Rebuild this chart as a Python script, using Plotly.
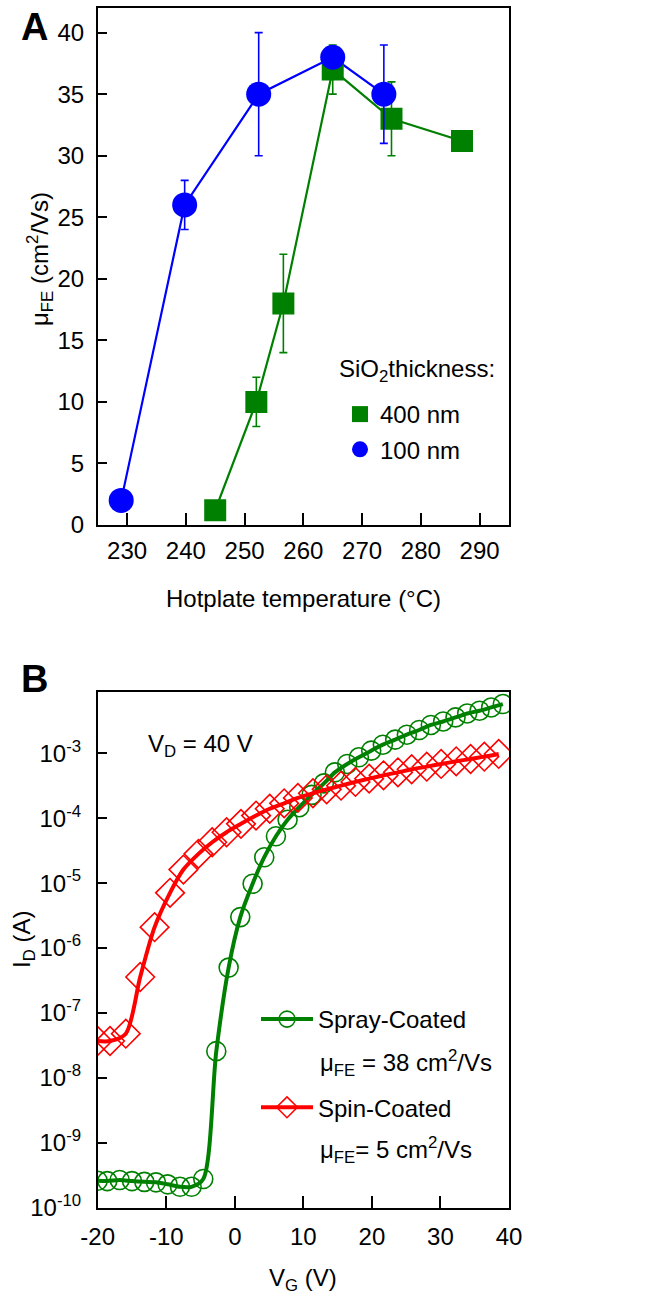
import plotly.graph_objects as go

# ---------------- Panel A data ----------------
temp_100 = [229.0, 239.8, 252.4, 265.0, 273.7]
mu_100 = [2.0, 26.0, 35.0, 38.0, 35.0]
err_100 = [0, 2, 5, 0, 4]

temp_400 = [245.0, 252.0, 256.6, 265.0, 275.0, 287.0]
mu_400 = [1.2, 10.0, 18.0, 37.0, 33.0, 31.2]
err_400 = [0, 2, 4, 2, 3, 0]

xticks_a = [230, 240, 250, 260, 270, 280, 290]
yticks_a = [0, 5, 10, 15, 20, 25, 30, 35, 40]

# ---------------- Panel B data ----------------
vg_spray = [-20.0, -18.6, -16.8, -15.0, -13.2, -11.5, -9.8, -8.0, -6.3, -4.6,
            -2.7, -0.9, 0.8, 2.6, 4.3, 6.0, 7.7, 9.4, 11.2, 13.0, 14.6, 16.4,
            18.1, 19.9, 21.6, 23.4, 25.1, 26.9, 28.6, 30.4, 32.2, 33.9, 35.7,
            37.4, 39.1]
id_spray = [2.6e-10, 2.57e-10, 2.67e-10, 2.57e-10, 2.5e-10, 2.46e-10, 2.29e-10,
            2.1e-10, 2.1e-10, 2.77e-10, 2.58e-8, 5.0e-7, 3.0e-6, 9.8e-6, 2.51e-5,
            5.28e-5, 9.5e-5, 1.48e-4, 2.29e-4, 3.45e-4, 5.1e-4, 6.87e-4, 8.7e-4,
            1.10e-3, 1.36e-3, 1.63e-3, 1.94e-3, 2.29e-3, 2.74e-3, 3.1e-3, 3.58e-3,
            4.12e-3, 4.54e-3, 5.1e-3, 5.75e-3]

vg_spin = [-20.0, -18.2, -15.9, -13.8, -11.7, -9.45, -7.5, -5.3, -3.3, -1.2,
           0.9, 3.1, 5.1, 7.2, 9.2, 11.4, 13.4, 15.5, 17.6, 19.6, 21.7, 23.8,
           25.8, 28.0, 30.1, 32.3, 34.4, 36.4, 38.5]
id_spin = [3.7e-8, 3.7e-8, 4.8e-8, 3.58e-7, 2.10e-6, 7.1e-6, 1.62e-5, 2.83e-5,
           4.27e-5, 6.1e-5, 8.2e-5, 1.10e-4, 1.40e-4, 1.70e-4, 2.06e-4, 2.43e-4,
           2.79e-4, 3.18e-4, 3.63e-4, 4.08e-4, 4.59e-4, 5.1e-4, 5.68e-4, 6.24e-4,
           6.87e-4, 7.54e-4, 8.2e-4, 8.9e-4, 9.8e-4]

xticks_b = [-20, -10, 0, 10, 20, 30, 40]
xticktext_b = ["-20", "-10", "0", "10", "20", "30", "40"]
yticks_b = [1e-10, 1e-9, 1e-8, 1e-7, 1e-6, 1e-5, 1e-4, 1e-3]
yticktext_b = ["10<sup>-10</sup>", "10<sup>-9</sup>", "10<sup>-8</sup>", "10<sup>-7</sup>",
               "10<sup>-6</sup>", "10<sup>-5</sup>", "10<sup>-4</sup>", "10<sup>-3</sup>"]

# ---------------- Styling ----------------
W, H = 668, 1300
FONT = "Liberation Sans, Arial, sans-serif"
FS = 24
GREEN = "#008000"
BLUE = "#0000ff"
RED = "#ff0000"


def px_x(p):
    return p / W


def px_y(p):
    return 1 - p / H


fig = go.Figure()

# Panel A: lines
fig.add_trace(go.Scatter(x=temp_400, y=mu_400, mode="lines", line=dict(color=GREEN, width=2.2),
                         showlegend=False, xaxis="x", yaxis="y", hoverinfo="skip"))
fig.add_trace(go.Scatter(x=temp_100, y=mu_100, mode="lines", line=dict(color=BLUE, width=2.2),
                         showlegend=False, xaxis="x", yaxis="y", hoverinfo="skip"))
# Panel A: markers with error bars
fig.add_trace(go.Scatter(x=temp_400, y=mu_400, mode="markers", name="400 nm",
                         marker=dict(symbol="square", size=22, color=GREEN),
                         error_y=dict(type="data", array=err_400, visible=True, color=GREEN,
                                      thickness=1.6, width=4),
                         xaxis="x", yaxis="y", legend="legend", legendgroup="g400"))
fig.add_trace(go.Scatter(x=temp_100, y=mu_100, mode="markers", name="100 nm",
                         marker=dict(symbol="circle", size=25, color=BLUE),
                         error_y=dict(type="data", array=err_100, visible=True, color=BLUE,
                                      thickness=1.6, width=4),
                         xaxis="x", yaxis="y", legend="legend", legendgroup="g100"))

# Panel B
fig.add_trace(go.Scatter(x=vg_spray, y=id_spray, mode="lines+markers",
                         name="Spray-Coated",
                         line=dict(color=GREEN, width=4, shape="spline", smoothing=0.8),
                         marker=dict(symbol="circle-open", size=19, color=GREEN,
                                     line=dict(width=1.6, color=GREEN)),
                         xaxis="x2", yaxis="y2", legend="legend2", legendgroup="spray"))
fig.add_trace(go.Scatter(x=vg_spin, y=id_spin, mode="lines+markers",
                         name="Spin-Coated",
                         line=dict(color=RED, width=4, shape="spline", smoothing=0.8),
                         marker=dict(symbol="diamond-open", size=22, color=RED,
                                     line=dict(width=1.6, color=RED)),
                         xaxis="x2", yaxis="y2", legend="legend2", legendgroup="spin"))

axis_common = dict(showline=True, linecolor="black", linewidth=1.5, mirror=True,
                   ticks="inside", tickcolor="black", tickwidth=1.5,
                   showgrid=False, zeroline=False, automargin=False,
                   tickfont=dict(family=FONT, size=FS, color="black"))

fig.update_layout(
    template="none",
    width=W, height=H,
    margin=dict(l=0, r=0, t=0, b=0, autoexpand=False),
    paper_bgcolor="white", plot_bgcolor="white",
    font=dict(family=FONT, size=FS, color="black"),
    xaxis=dict(domain=[px_x(97.7), px_x(509)], range=[225, 295], tickvals=xticks_a,
               ticklen=12, anchor="y", ticklabelstandoff=3, **axis_common),
    yaxis=dict(domain=[px_y(525), px_y(8)], range=[0, 42], tickvals=yticks_a,
               ticklen=10, anchor="x", ticklabelstandoff=7, **axis_common),
    xaxis2=dict(domain=[px_x(97.7), px_x(509)], range=[-20, 40], tickvals=xticks_b,
                ticktext=xticktext_b,
                ticklen=12, anchor="y2", ticklabelstandoff=7, **axis_common),
    yaxis2=dict(domain=[px_y(1207.7), px_y(691.7)], type="log", range=[-10, -2.05],
                tickvals=yticks_b, ticktext=yticktext_b,
                ticklen=10, anchor="x2", ticklabelstandoff=10, **axis_common),
    legend=dict(x=px_x(340), y=px_y(392), xanchor="left", yanchor="top",
                bgcolor="rgba(0,0,0,0)", font=dict(family=FONT, size=FS),
                itemsizing="trace", tracegroupgap=1),
    legend2=dict(x=px_x(256), y=px_y(997), xanchor="left", yanchor="top",
                 bgcolor="rgba(0,0,0,0)", font=dict(family=FONT, size=FS),
                 itemsizing="trace", itemwidth=52, tracegroupgap=54),
    showlegend=True,
)

ann = [
    dict(text="<b>A</b>", x=px_x(34), y=px_y(27), size=38),
    dict(text="<b>B</b>", x=px_x(34), y=px_y(679), size=38),
    dict(text="μ<sub>FE</sub> (cm<sup>2</sup>/Vs)", x=px_x(40), y=px_y(259), textangle=-90),
    dict(text="Hotplate temperature (°C)", x=px_x(303), y=px_y(598)),
    dict(text="I<sub>D</sub> (A)", x=px_x(23), y=px_y(940), textangle=-90),
    dict(text="V<sub>G</sub> (V)", x=px_x(303), y=px_y(1279)),
    dict(text="V<sub>D</sub> = 40 V", x=px_x(146), y=px_y(745), xanchor="left"),
    dict(text="SiO<sub>2</sub>thickness:", x=px_x(337), y=px_y(370), xanchor="left"),
    dict(text="μ<sub>FE</sub> = 38 cm<sup>2</sup>/Vs", x=px_x(318), y=px_y(1063), xanchor="left"),
    dict(text="μ<sub>FE</sub>= 5 cm<sup>2</sup>/Vs", x=px_x(318), y=px_y(1150), xanchor="left"),
]
for a in ann:
    a.setdefault("xanchor", "center")
    size = a.pop("size", FS)
    fig.add_annotation(xref="paper", yref="paper", showarrow=False, yanchor="middle",
                       font=dict(family=FONT, size=size, color="black"), **a)

fig.write_html("out.html")
